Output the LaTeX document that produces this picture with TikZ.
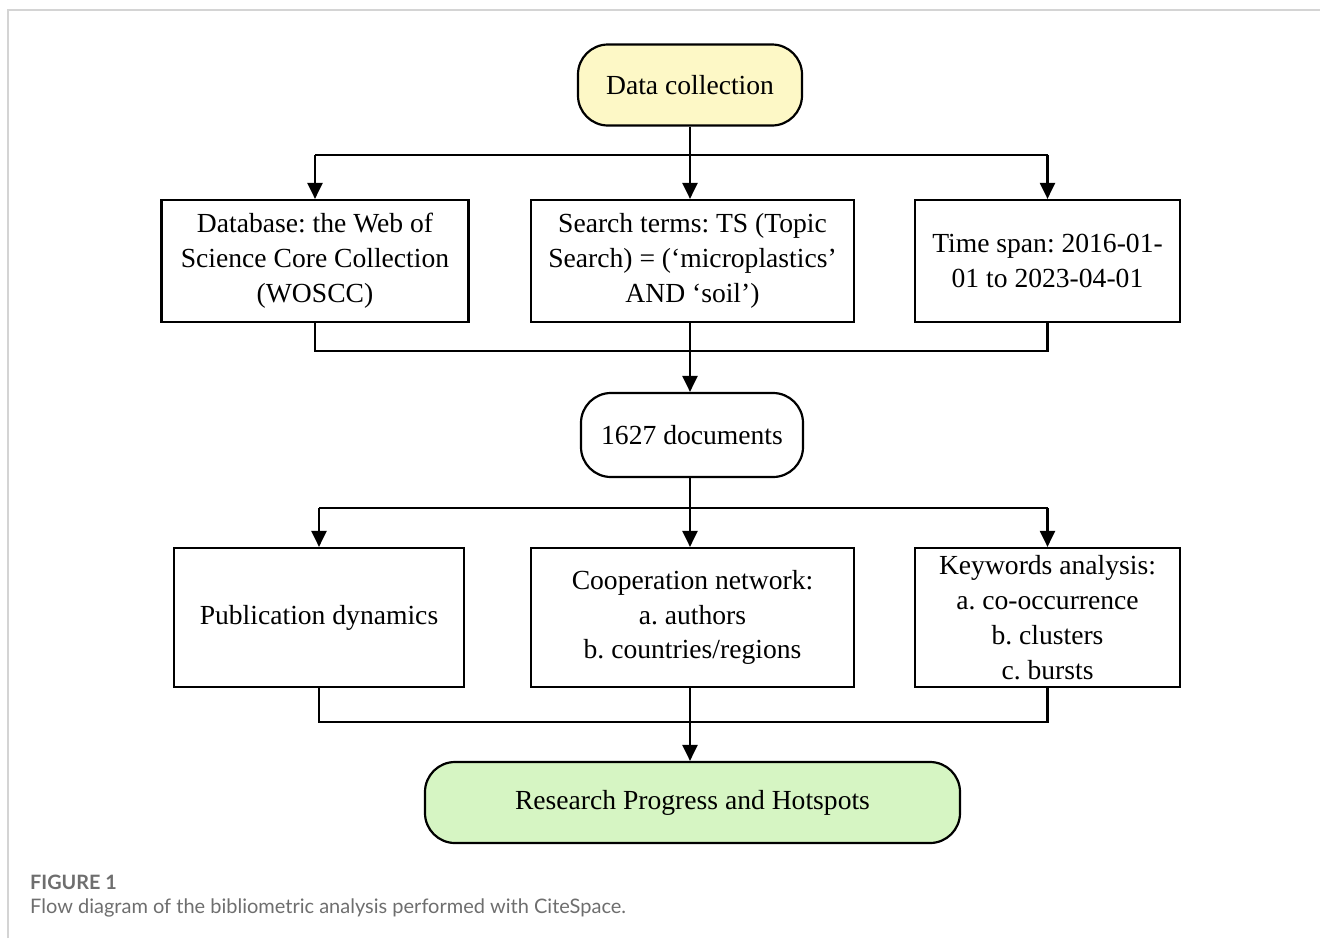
\documentclass[tikz,border=0pt]{standalone}
\usepackage{fontspec}
\setmainfont{Liberation Serif}
\newfontfamily\capfont{Lato}
\usetikzlibrary{arrows.meta,calc}
\definecolor{dcyellow}{HTML}{FDF8C6}
\definecolor{rpgreen}{HTML}{D6F5C3}
\definecolor{capgray}{HTML}{6E6E6E}
\definecolor{framegray}{HTML}{D4D4D4}
\frenchspacing
\begin{document}
\begin{tikzpicture}[x=1pt,y=-1pt,
  every node/.style={font=\frenchspacing\fontsize{27.6}{34.8}\selectfont, align=center, inner sep=0pt},
  sqbox/.style={draw, line width=2.2pt},
  rdbox/.style={draw, line width=2.2pt, rounded corners=30pt},
  conn/.style={line width=2.2pt},
  arr/.style={line width=2.2pt, -{Triangle[length=16pt,width=15pt]}}
]
\useasboundingbox (0,0) rectangle (1320,938);
\draw[framegray, line width=1.5pt] (8,938) -- (8,10) -- (1320,10);

% nodes
\node[rdbox, fill=dcyellow, minimum width=224pt, minimum height=81pt] (dc) at (690,85) {Data collection};
\node[sqbox, minimum width=307pt, minimum height=122pt] (db) at (315,261)
  {Database: the Web of\\Science Core Collection\\(WOSCC)};
\node[sqbox, minimum width=323pt, minimum height=122pt] (st) at (692.5,261)
  {Search terms: TS (Topic\\Search) = (‘microplastics’\\AND ‘soil’)};
\node[sqbox, minimum width=265pt, minimum height=122pt] (ts) at (1047.5,261)
  {Time span: 2016-01-\\01 to 2023-04-01};
\node[rdbox, minimum width=222pt, minimum height=84pt] (doc) at (692,435) {1627 documents};
\node[sqbox, minimum width=290pt, minimum height=139pt] (pd) at (319,617.5) {Publication dynamics};
\node[sqbox, minimum width=323pt, minimum height=139pt] (cn) at (692.5,617.5)
  {Cooperation network:\\a. authors\\b. countries/regions};
\node[sqbox, minimum width=265pt, minimum height=139pt] (ka) at (1047.5,617.5)
  {Keywords analysis:\\a. co-occurrence\\b. clusters\\c. bursts};
\node[rdbox, fill=rpgreen, minimum width=535pt, minimum height=81pt] (rp) at (692.5,802.5)
  {Research Progress and Hotspots};

% connectors, level 1
\coordinate (j1) at (690,155);
\draw[conn] (dc.south) -- (j1);
\draw[conn] (db.north |- j1) -- (ts.north |- j1);
\draw[arr] (db.north |- j1) -- (db.north);
\draw[arr] (j1) -- (j1 |- st.north);
\draw[arr] (ts.north |- j1) -- (ts.north);

% level 2
\coordinate (j2) at (690,351);
\draw[conn] (db.south) -- (db.south |- j2) -- (ts.south |- j2) -- (ts.south);
\draw[conn] (j2 |- st.south) -- (j2);
\draw[arr] (j2) -- (j2 |- doc.north);

% level 3
\coordinate (j3) at (690,508);
\draw[conn] (j3 |- doc.south) -- (j3);
\draw[conn] (pd.north |- j3) -- (ka.north |- j3);
\draw[arr] (pd.north |- j3) -- (pd.north);
\draw[arr] (j3) -- (j3 |- cn.north);
\draw[arr] (ka.north |- j3) -- (ka.north);

% level 4
\coordinate (j4) at (690,722);
\draw[conn] (pd.south) -- (pd.south |- j4) -- (ka.south |- j4) -- (ka.south);
\draw[conn] (j4 |- cn.south) -- (j4);
\draw[arr] (j4) -- (j4 |- rp.north);

% caption
\node[font=\capfont\bfseries\fontsize{19.8}{24}\selectfont, text=capgray, anchor=base west] (cap1) at (30,889) {FIGURE 1};
\node[font=\capfont\fontsize{20}{24}\selectfont, text=capgray, anchor=base west] (cap2) at (30,913)
  {Flow diagram of the bibliometric analysis performed with CiteSpace.};
\end{tikzpicture}
\end{document}
